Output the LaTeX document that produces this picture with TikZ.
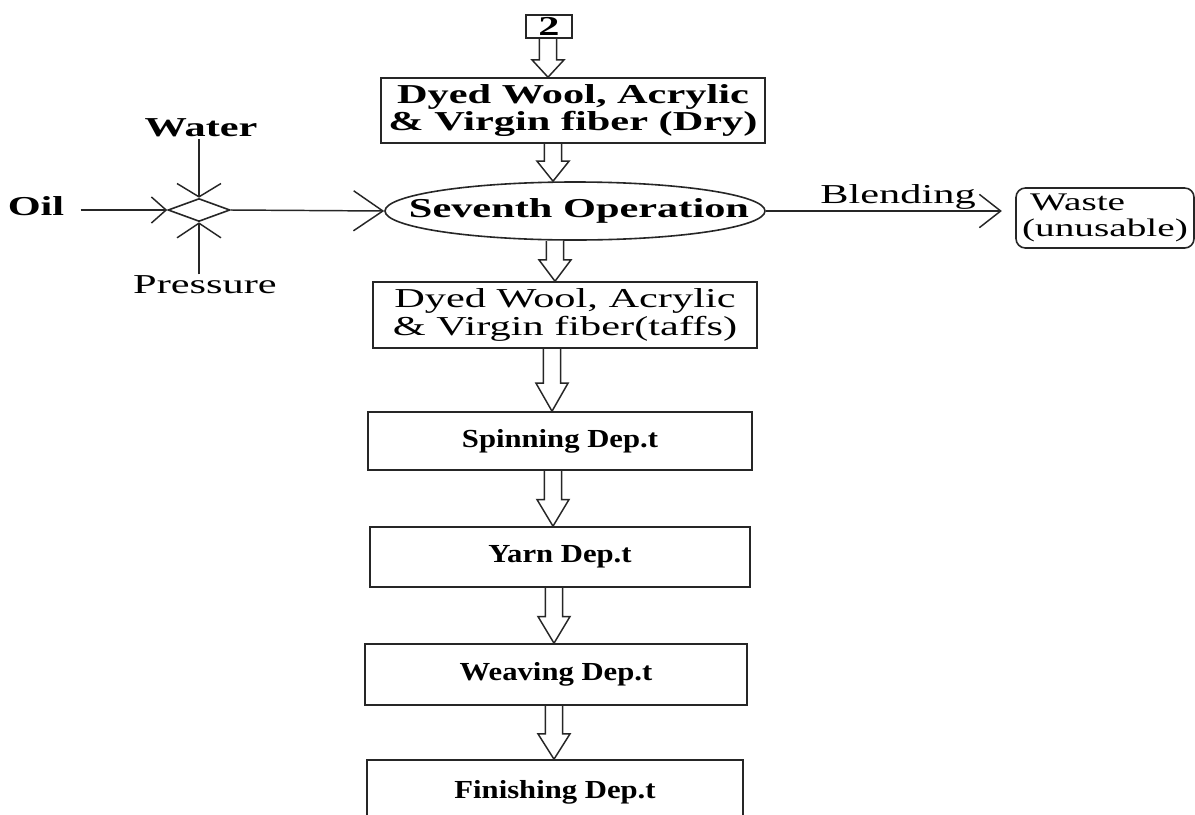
\documentclass[tikz,border=0pt]{standalone}
\usepackage{fontspec}
\setmainfont{Liberation Serif}
\newfontfamily\widefont{Liberation Serif}[FakeStretch=1.55]
\newfontfamily\deptfont{Liberation Serif}[FakeStretch=1.18]
\usetikzlibrary{shapes.geometric,arrows.meta,calc}

\tikzset{
  ink/.style={draw=black!85, line width=1.2pt},
  procbox/.style={ink, rectangle, inner sep=2pt, align=center},
  widebold/.style={font=\widefont\bfseries\fontsize{20.5}{20.5}\selectfont},
  wideplain/.style={font=\widefont\fontsize{20.5}{21}\selectfont},
  deptlabel/.style={font=\deptfont\bfseries\fontsize{19.5}{21}\selectfont},
  feed/.style={draw=black!85, line width=1.1pt},
  blockarr/.style={draw=black!85, line width=1.1pt, line join=miter},
}

% hollow block arrow: from, to, horizontal shift (px), head length
\newcommand\blockarrow[4]{%
  \draw[blockarr] let \p1=($(#1.south)+(#3,0)$), \p2=(#2.north) in
    (\x1-6.4pt,\y1) -- (\x1-6.4pt,\y2+#4) -- (\x1-12pt,\y2+#4) -- (\x1,\y2)
    -- (\x1+12pt,\y2+#4) -- (\x1+6.4pt,\y2+#4) -- (\x1+6.4pt,\y1);}

\begin{document}
\begin{tikzpicture}[x=0.75pt,y=-0.75pt]
\useasboundingbox (0,0) rectangle (1195,814);
\fill[white] (0,0) rectangle (1195,814);
\clip (0,0) rectangle (1195,814);

% main column
\node[procbox, widebold, minimum width=34.5pt, minimum height=17.25pt, inner sep=0pt] (two) at (549,26.5) {2};
\node[procbox, widebold, minimum width=288pt, minimum height=48.75pt] (dry) at (573,110.5)
  {Dyed Wool, Acrylic\\ \& Virgin fiber (Dry)};
\node[ink, ellipse, minimum width=285pt, minimum height=43.5pt, inner sep=0pt] (ell) at (575,211) {};
\node[widebold, inner sep=0pt] (elltext) at ([xshift=3pt]ell.center) {Seventh Operation};
\node[procbox, wideplain, minimum width=288pt, minimum height=49.5pt] (taffs) at (565,315)
  {Dyed Wool, Acrylic\\ \& Virgin fiber(taffs)};
\node[procbox, deptlabel, minimum width=288pt, minimum height=43.5pt] (spin) at (560,441) {Spinning Dep.t};
\node[procbox, deptlabel, minimum width=285pt, minimum height=45pt] (yarn) at (560,557) {Yarn Dep.t};
\node[procbox, deptlabel, minimum width=286.5pt, minimum height=45.75pt] (weav) at (556,674.5) {Weaving Dep.t};
\node[procbox, deptlabel, minimum width=282pt, minimum height=48pt] (fin) at (555,792) {Finishing Dep.t};

% side inputs and output
\node[ink, diamond, minimum width=46.5pt, minimum height=17.25pt, inner sep=0pt] (dia) at (199,210) {};
\node[widebold, inner sep=1pt] (oil) at (36,206) {Oil};
\node[widebold, inner sep=1pt] (water) at (201,128) {Water};
\node[wideplain, inner sep=1pt] (press) at (205,285) {Pressure};
\node[ink, rounded corners=7pt, align=left, inner sep=1.5pt, minimum width=133.5pt, minimum height=45pt,
      font=\widefont\fontsize{19}{19.5}\selectfont] (waste) at (1105,218)
  {\hspace*{6pt}Waste\\(unusable)};

% thin connectors
\draw[feed, -{Straight Barb[length=11pt,width=19.5pt]}, shorten <=11pt] (oil.east |- dia.west) -- (dia.west);
\draw[feed, -{Straight Barb[length=10pt,width=33pt]}] (water.south -| dia.north) -- (dia.north);
\draw[feed, -{Straight Barb[length=11pt,width=33pt]}] (press.north -| dia.south) -- (dia.south);
\draw[feed, -{Straight Barb[length=22pt,width=30pt]}] (dia.east) -- (ell.west);
\draw[feed, -{Straight Barb[length=16pt,width=25pt]}, shorten >=10pt] (ell.east) -- (ell.east -| waste.west)
  node[pos=0.53, above, inner sep=1pt, wideplain] (blend) {Blending};

% block arrows down the column
\blockarrow{two}{dry}{-1}{13pt}
\blockarrow{dry}{ell}{-20}{15pt}
\blockarrow{ell}{taffs}{-20}{16pt}
\blockarrow{taffs}{spin}{-13}{21pt}
\blockarrow{spin}{yarn}{-7}{20pt}
\blockarrow{yarn}{weav}{-6}{20pt}
\blockarrow{weav}{fin}{-2}{19pt}
\end{tikzpicture}
\end{document}
